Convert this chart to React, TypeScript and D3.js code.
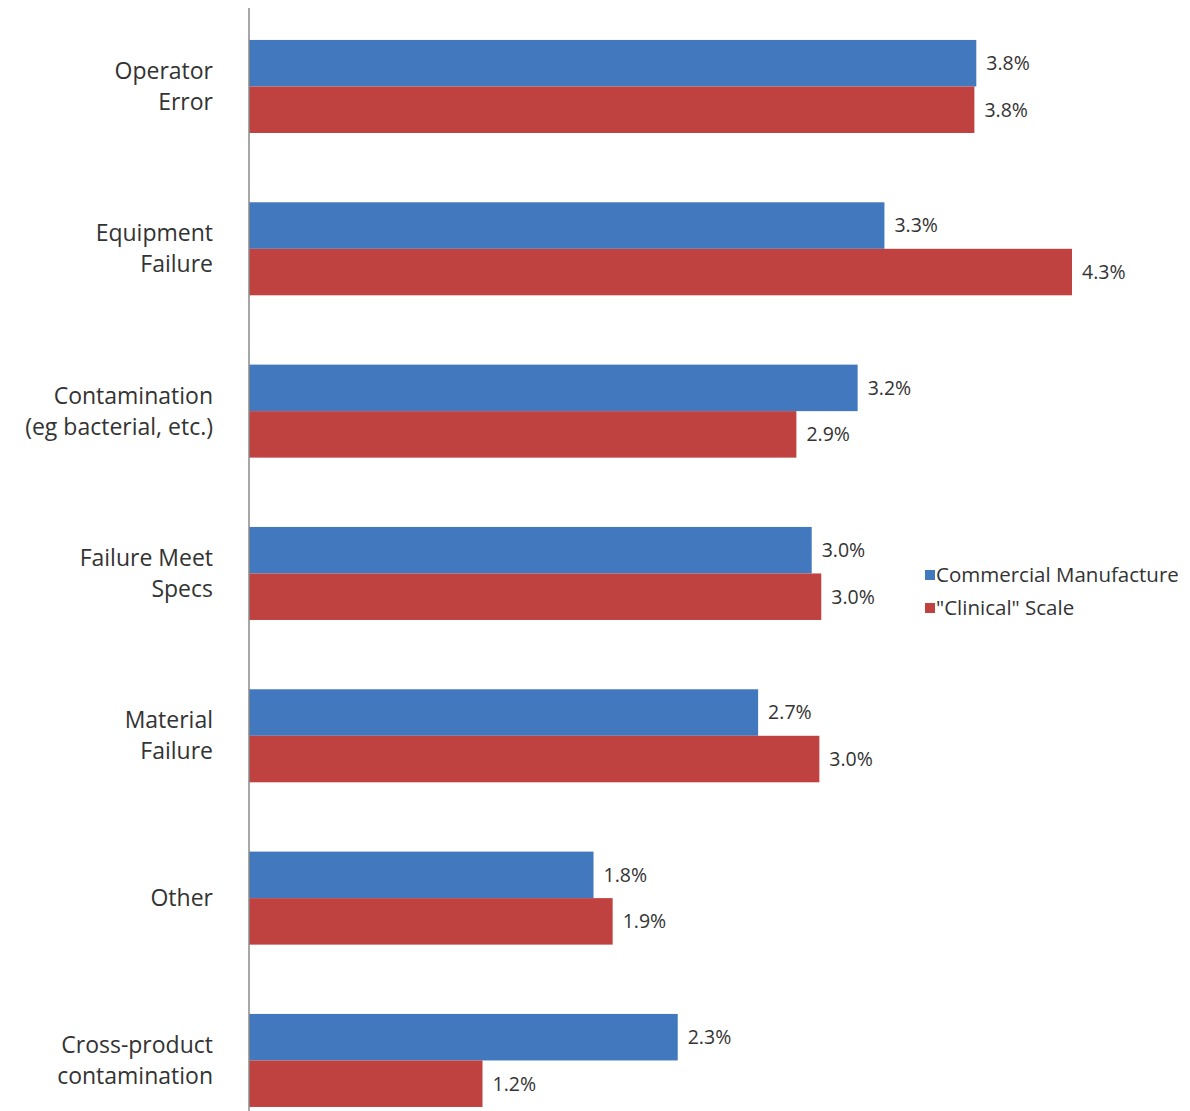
import React, { useEffect, useRef } from 'react';
import * as d3 from 'd3';

// categories, top to bottom (label lines kept as separate strings)
const categories = [
  'Operator Error',
  'Equipment Failure',
  'Contamination (eg bacterial, etc.)',
  'Failure Meet Specs',
  'Material Failure',
  'Other',
  'Cross-product contamination',
];
const categoryLines = [
  ['Operator', 'Error'],
  ['Equipment', 'Failure'],
  ['Contamination', '(eg bacterial, etc.)'],
  ['Failure Meet', 'Specs'],
  ['Material', 'Failure'],
  ['Other'],
  ['Cross-product', 'contamination'],
];
const seriesNames = ['Commercial Manufacture', '"Clinical" Scale'];
// bar lengths
const commercial = [3.8, 3.32, 3.18, 2.94, 2.66, 1.8, 2.24];
const clinical = [3.79, 4.3, 2.86, 2.99, 2.98, 1.9, 1.22];
// printed value labels
const commercialLabels = ['3.8%', '3.3%', '3.2%', '3.0%', '2.7%', '1.8%', '2.3%'];
const clinicalLabels = ['3.8%', '4.3%', '2.9%', '3.0%', '3.0%', '1.9%', '1.2%'];

const W = 1190;
const H = 1111;
const colors = ['#4178be', '#bf4240'];
const font = "'Open Sans', 'Noto Sans', sans-serif";

export default function App() {
  const svgRef = useRef<SVGSVGElement>(null);

  useEffect(() => {
    document.body.style.margin = '0';
    if (!svgRef.current) return;
    const svg = d3.select(svgRef.current);
    svg.selectAll('*').remove();

    const x0 = 249;
    const x = d3.scaleLinear().domain([0, 4.3]).range([x0, 1072]);

    const y = d3.scaleBand<string>()
      .domain(categories)
      .range([5.3, 5.3 + 7 * 162.33])
      .paddingInner(0.427)
      .paddingOuter(0.2135);

    const sub = d3.scaleBand<number>()
      .domain([0, 1])
      .range([0, y.bandwidth()]);

    const series = [commercial, clinical];
    const labels = [commercialLabels, clinicalLabels];

    const g = svg.append('g');

    series.forEach((vals, si) => {
      g.selectAll(`rect.s${si}`)
        .data(vals)
        .enter()
        .append('rect')
        .attr('x', x0)
        .attr('y', (_, i) => (y(categories[i]) as number) + (sub(si) as number))
        .attr('width', (d) => x(d) - x0)
        .attr('height', sub.bandwidth())
        .attr('fill', colors[si]);

      g.selectAll(`text.v${si}`)
        .data(vals)
        .enter()
        .append('text')
        .attr('x', (d) => x(d) + 10)
        .attr('y', (_, i) => (y(categories[i]) as number) + (sub(si) as number) + sub.bandwidth() / 2)
        .attr('dy', '0.35em')
        .attr('font-family', font)
        .attr('font-size', 19.5)
        .attr('fill', '#333')
        .text((_, i) => labels[si][i]);
    });

    // axis line
    svg.append('line')
      .attr('x1', x0)
      .attr('x2', x0)
      .attr('y1', 8)
      .attr('y2', H)
      .attr('stroke', '#8a8a8a')
      .attr('stroke-width', 1.5);

    // category labels
    const lineH = 31;
    categoryLines.forEach((lines, i) => {
      const cy = (y(categories[i]) as number) + y.bandwidth() / 2;
      const t = svg.append('text')
        .attr('x', 213)
        .attr('y', cy - ((lines.length - 1) * lineH) / 2)
        .attr('text-anchor', 'end')
        .attr('font-family', font)
        .attr('font-size', 23)
        .attr('fill', '#333');
      lines.forEach((l, li) => {
        t.append('tspan')
          .attr('x', 213)
          .attr('dy', li === 0 ? '0.35em' : lineH)
          .text(l);
      });
    });

    // legend
    const legend = svg.append('g').attr('transform', 'translate(925,575)');
    seriesNames.forEach((name, i) => {
      legend.append('rect')
        .attr('x', 0)
        .attr('y', i * 33 - 5)
        .attr('width', 10)
        .attr('height', 10)
        .attr('fill', colors[i]);
      legend.append('text')
        .attr('x', 11)
        .attr('y', i * 33)
        .attr('dy', '0.35em')
        .attr('font-family', font)
        .attr('font-size', 20.5)
        .attr('fill', '#333')
        .text(name);
    });
  }, []);

  return <svg ref={svgRef} width={W} height={H} style={{ display: 'block', background: '#fff' }} />;
}
